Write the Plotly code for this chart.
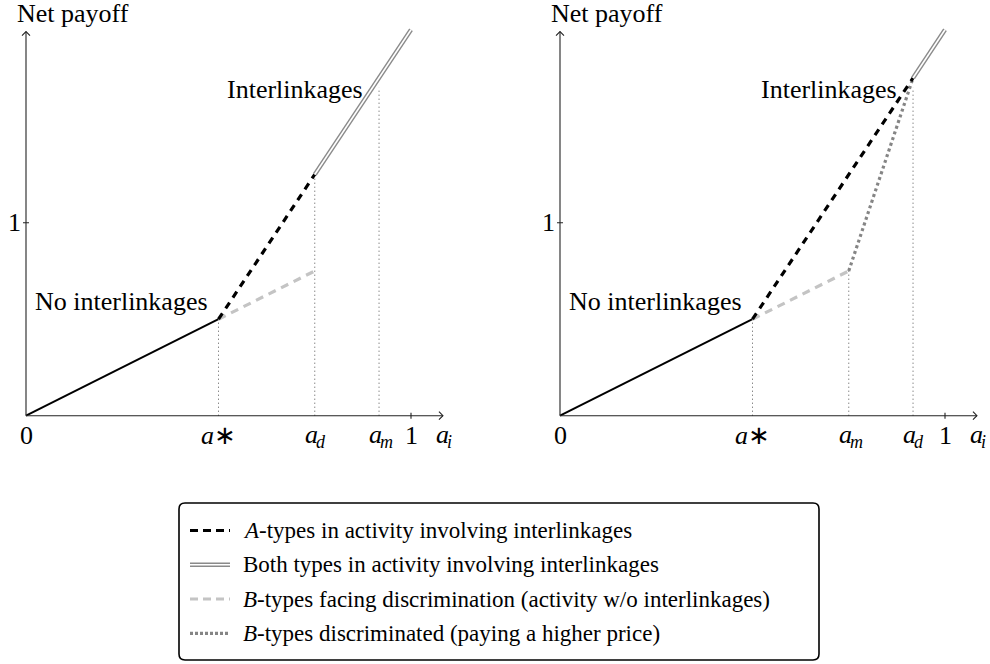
import plotly.graph_objects as go

# ---------------- data ----------------
# left panel (a* < a_d < a_m)
left_solid_x = [0, 0.5]
left_solid_y = [0, 0.5]
left_A_x = [0.5, 0.75]
left_A_y = [0.5, 1.25]
left_both_x = [0.75, 1.0]
left_both_y = [1.25, 2.0]
left_Bface_x = [0.5, 0.75]
left_Bface_y = [0.5, 0.75]
left_guide_x = [0.5, 0.75, 0.917]
left_guide_top = [0.5, 1.25, 1.7]
left_guide_subs = ["∗", "d", "m"]

# right panel (a* < a_m < a_d)
right_solid_x = [0, 0.5]
right_solid_y = [0, 0.5]
right_A_x = [0.5, 0.917]
right_A_y = [0.5, 1.75]
right_both_x = [0.917, 1.0]
right_both_y = [1.75, 2.0]
right_Bface_x = [0.5, 0.75]
right_Bface_y = [0.5, 0.75]
right_Bdisc_x = [0.75, 0.917]
right_Bdisc_y = [0.75, 1.75]
right_guide_x = [0.5, 0.75, 0.917]
right_guide_top = [0.5, 0.75, 1.7]
right_guide_subs = ["∗", "m", "d"]

x_axis_end = 1.083
y_axis_end = 1.99
legend_labels = [
    "<i>A</i>-types in activity involving interlinkages",
    "Both types in activity involving interlinkages",
    "<i>B</i>-types facing discrimination (activity w/o interlinkages)",
    "<i>B</i>-types discriminated (paying a higher price)",
]

# ---------------- styles ----------------
FONT = "Liberation Serif"
W, H = 990, 664
BLACK_DASH = dict(color="black", width=3.2, dash="7px,6px")
LIGHT_DASH = dict(color="#c4c4c4", width=3.2, dash="8px,6px")
GRAY_DOT = dict(color="#858585", width=3.2, dash="3px,3px")
SOLID = dict(color="black", width=2)
GUIDE = dict(color="#555555", width=1, dash="1px,3px")
DOUBLE_OUT = dict(color="#8a8a8a", width=4.4)
DOUBLE_IN = dict(color="white", width=1.6)
AXLINE = dict(color="#222222", width=1.1)

XR = [-0.05, 1.1]
YR = [-0.1, 2.1]
PX_X = 385.0  # pixels per unit x
PX_Y = 193.0  # pixels per unit y
ORIG_Y = 415.7
DX = 1.0 / PX_X
DY = 1.0 / PX_Y


def xdomain(orig_x):
    return [(orig_x + XR[0] * PX_X) / W, (orig_x + XR[1] * PX_X) / W]


yd = [(H - (ORIG_Y - YR[0] * PX_Y)) / H, (H - (ORIG_Y - YR[1] * PX_Y)) / H]


def tfont(size=26):
    return dict(family=FONT, size=size, color="black")


fig = go.Figure()
panels = [
    dict(xa="x", ya="y", solid=(left_solid_x, left_solid_y), A=(left_A_x, left_A_y),
         both=(left_both_x, left_both_y), face=(left_Bface_x, left_Bface_y), disc=None,
         gx=left_guide_x, gt=left_guide_top, gs=left_guide_subs),
    dict(xa="x2", ya="y2", solid=(right_solid_x, right_solid_y), A=(right_A_x, right_A_y),
         both=(right_both_x, right_both_y), face=(right_Bface_x, right_Bface_y),
         disc=(right_Bdisc_x, right_Bdisc_y),
         gx=right_guide_x, gt=right_guide_top, gs=right_guide_subs),
]

shapes = []
annotations = []
for p in panels:
    xa, ya = p["xa"], p["ya"]
    xref, yref = xa, ya
    for gx, gt in zip(p["gx"], p["gt"]):
        fig.add_trace(go.Scatter(x=[gx, gx], y=[0, gt], mode="lines", line=GUIDE,
                                 xaxis=xa, yaxis=ya, showlegend=False))
    shapes.append(dict(type="line", xref=xref, yref=yref, x0=0, y0=0, x1=x_axis_end, y1=0,
                       line=AXLINE))
    shapes.append(dict(type="line", xref=xref, yref=yref, x0=0, y0=0, x1=0, y1=y_axis_end,
                       line=AXLINE))
    xe, ye = x_axis_end, y_axis_end
    shapes.append(dict(type="path", xref=xref, yref=yref,
                       path=f"M {xe - 4 * DX},{4 * DY} L {xe},0 L {xe - 4 * DX},{-4 * DY}",
                       line=AXLINE))
    shapes.append(dict(type="path", xref=xref, yref=yref,
                       path=f"M {-4 * DX},{ye - 4 * DY} L 0,{ye} L {4 * DX},{ye - 4 * DY}",
                       line=AXLINE))
    shapes.append(dict(type="line", xref=xref, yref=yref, x0=1, x1=1, y0=-3 * DY, y1=3 * DY,
                       line=AXLINE))
    shapes.append(dict(type="line", xref=xref, yref=yref, x0=-3 * DX, x1=3 * DX, y0=1, y1=1,
                       line=AXLINE))
    fig.add_trace(go.Scatter(x=p["solid"][0], y=p["solid"][1], mode="lines", line=SOLID,
                             xaxis=xa, yaxis=ya, showlegend=False))
    fig.add_trace(go.Scatter(x=p["face"][0], y=p["face"][1], mode="lines", line=LIGHT_DASH,
                             xaxis=xa, yaxis=ya, showlegend=False))
    if p["disc"] is not None:
        fig.add_trace(go.Scatter(x=p["disc"][0], y=p["disc"][1], mode="lines", line=GRAY_DOT,
                                 xaxis=xa, yaxis=ya, showlegend=False))
    fig.add_trace(go.Scatter(x=p["A"][0], y=p["A"][1], mode="lines", line=BLACK_DASH,
                             xaxis=xa, yaxis=ya, showlegend=False))
    fig.add_trace(go.Scatter(x=p["both"][0], y=p["both"][1], mode="lines", line=DOUBLE_OUT,
                             xaxis=xa, yaxis=ya, showlegend=False))
    fig.add_trace(go.Scatter(x=p["both"][0], y=p["both"][1], mode="lines", line=DOUBLE_IN,
                             xaxis=xa, yaxis=ya, showlegend=False))

    # x tick labels: italic "a" plus subscript / asterisk as a separate smaller text
    for gx, gs in zip(p["gx"], p["gs"]):
        if gs == "∗":
            annotations.append(dict(x=gx, y=0, xref=xref, yref=yref, text="<i>a</i>∗",
                                    showarrow=False, yanchor="middle", yshift=-20,
                                    font=tfont()))
        else:
            annotations.append(dict(x=gx, y=0, xref=xref, yref=yref, text="<i>a</i>",
                                    showarrow=False, xanchor="right", xshift=5,
                                    yanchor="middle", yshift=-19, font=tfont()))
            annotations.append(dict(x=gx, y=0, xref=xref, yref=yref, text=f"<i>{gs}</i>",
                                    showarrow=False, xanchor="left", xshift=-1,
                                    yanchor="middle", yshift=-26, font=tfont(18)))
    annotations.append(dict(x=0, y=0, xref=xref, yref=yref, text="0", showarrow=False,
                            yanchor="middle", yshift=-20, font=tfont()))
    annotations.append(dict(x=1, y=0, xref=xref, yref=yref, text="1", showarrow=False,
                            yanchor="middle", yshift=-20, font=tfont()))
    annotations.append(dict(x=x_axis_end, y=0, xref=xref, yref=yref, text="<i>a</i>",
                            showarrow=False, xanchor="left", xshift=-9,
                            yanchor="middle", yshift=-19, font=tfont()))
    annotations.append(dict(x=x_axis_end, y=0, xref=xref, yref=yref, text="<i>i</i>",
                            showarrow=False, xanchor="left", xshift=2,
                            yanchor="middle", yshift=-26, font=tfont(18)))
    annotations.append(dict(x=0, y=1, xref=xref, yref=yref, text="1", showarrow=False,
                            xanchor="right", xshift=-3, yanchor="middle", font=tfont()))
    annotations.append(dict(x=0.123, y=2.085, xref=xref, yref=yref, text="Net payoff",
                            showarrow=False, yanchor="middle", font=tfont()))
    annotations.append(dict(x=0.699, y=1.69, xref=xref, yref=yref, text="Interlinkages",
                            showarrow=False, yanchor="middle", font=tfont()))
    annotations.append(dict(x=0.248, y=0.59, xref=xref, yref=yref, text="No interlinkages",
                            showarrow=False, yanchor="middle", font=tfont()))


# ---------------- legend (custom, paper coords) ----------------
def px(xp):
    return xp / W


def py(yp):
    return 1 - yp / H


bx0, bx1, by0, by1, r = 179, 819, 503, 660, 6
box_path = (
    f"M {px(bx0 + r)},{py(by0)} L {px(bx1 - r)},{py(by0)} "
    f"Q {px(bx1)},{py(by0)} {px(bx1)},{py(by0 + r)} L {px(bx1)},{py(by1 - r)} "
    f"Q {px(bx1)},{py(by1)} {px(bx1 - r)},{py(by1)} L {px(bx0 + r)},{py(by1)} "
    f"Q {px(bx0)},{py(by1)} {px(bx0)},{py(by1 - r)} L {px(bx0)},{py(by0 + r)} "
    f"Q {px(bx0)},{py(by0)} {px(bx0 + r)},{py(by0)} Z"
)
shapes.append(dict(type="path", xref="paper", yref="paper", path=box_path,
                   line=dict(color="black", width=1.6)))

row_y = [530.5, 564.8, 599.0, 633.3]
leg_styles = [
    [dict(color="black", width=3.2, dash="8px,5px")],
    [DOUBLE_OUT, DOUBLE_IN],
    [dict(color="#c4c4c4", width=3.2, dash="8px,5px")],
    [dict(color="#858585", width=3.2, dash="3px,2px")],
]
for ry, lab, sty in zip(row_y, legend_labels, leg_styles):
    for s in sty:
        shapes.append(dict(type="line", xref="paper", yref="paper", x0=px(190), x1=px(230),
                           y0=py(ry), y1=py(ry), line=s))
    annotations.append(dict(x=px(241), y=py(ry), xref="paper", yref="paper", text=lab,
                            showarrow=False, xanchor="left", yanchor="middle",
                            font=tfont(23)))

fig.update_layout(
    width=W, height=H, margin=dict(l=0, r=0, t=0, b=0),
    plot_bgcolor="white", showlegend=False,
    font=dict(family=FONT),
    xaxis=dict(domain=xdomain(26.0), range=XR, anchor="y", visible=False),
    yaxis=dict(domain=yd, range=YR, anchor="x", visible=False),
    xaxis2=dict(domain=xdomain(560.0), range=XR, anchor="y2", visible=False),
    yaxis2=dict(domain=yd, range=YR, anchor="x2", visible=False),
    shapes=shapes, annotations=annotations,
)

fig.write_html("out.html")
